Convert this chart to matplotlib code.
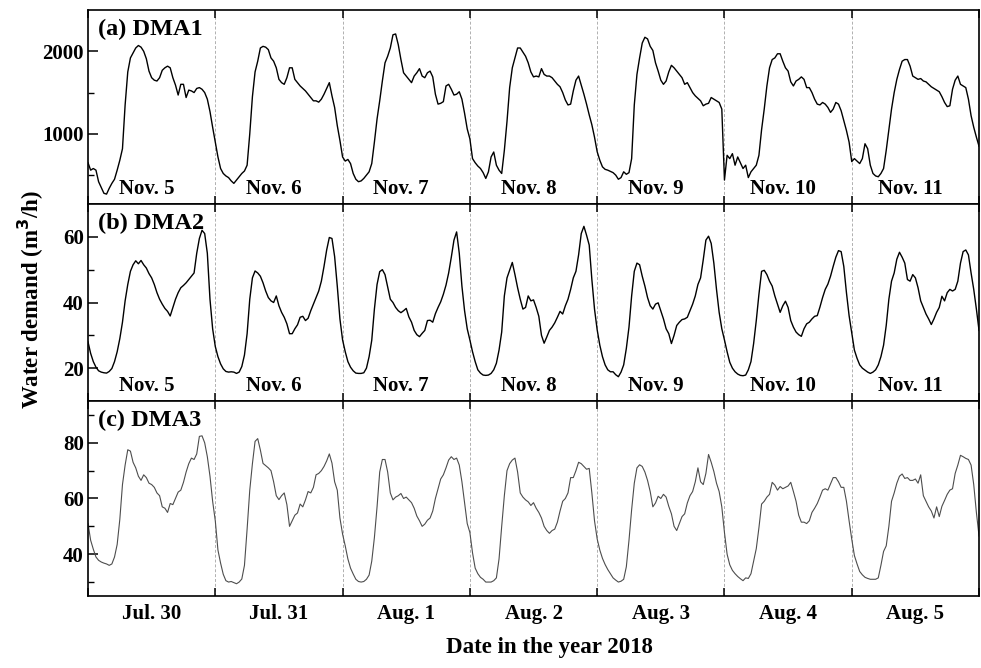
import numpy as np
import matplotlib
matplotlib.use("Agg")
import matplotlib.pyplot as plt
from matplotlib.ticker import FixedLocator, NullFormatter

# half-hourly demand, 48 values per day, plus the final point at the end of day 7
dma1 = [
    650, 560, 580, 560, 420, 350, 280, 270, 340, 400, 450, 560, 680, 820, 1350, 1750,
    1920, 1980, 2040, 2070, 2050, 2000, 1910, 1760, 1680, 1650, 1640, 1680, 1770, 1800, 1820, 1800,
    1680, 1590, 1470, 1600, 1600, 1440, 1530, 1520, 1500, 1550, 1560, 1540, 1500, 1420, 1270, 1080,
    900, 720, 580, 520, 490, 470, 430, 400, 440, 480, 520, 550, 620, 1000, 1450, 1750,
    1880, 2040, 2060, 2050, 2020, 1920, 1880, 1800, 1660, 1620, 1600, 1680, 1800, 1800, 1660, 1620,
    1580, 1550, 1520, 1480, 1440, 1400, 1400, 1384, 1420, 1480, 1550, 1620, 1460, 1320, 1100, 920,
    720, 670, 690, 640, 520, 450, 420, 430, 460, 500, 540, 640, 900, 1180, 1400, 1640,
    1860, 1940, 2040, 2200, 2210, 2080, 1900, 1740, 1700, 1660, 1620, 1700, 1740, 1790, 1700, 1680,
    1740, 1760, 1690, 1480, 1360, 1370, 1390, 1580, 1600, 1540, 1470, 1480, 1510, 1420, 1250, 1060,
    940, 700, 650, 610, 580, 530, 460, 540, 720, 780, 620, 560, 520, 800, 1150, 1560,
    1800, 1920, 2040, 2040, 1990, 1940, 1860, 1750, 1690, 1700, 1690, 1790, 1720, 1700, 1700, 1680,
    1640, 1600, 1570, 1500, 1410, 1350, 1360, 1520, 1650, 1700, 1590, 1480, 1360, 1230, 1110, 960,
    784, 680, 600, 570, 560, 545, 530, 500, 450, 470, 540, 510, 530, 700, 1350, 1720,
    1920, 2100, 2170, 2150, 2060, 2010, 1860, 1760, 1650, 1600, 1640, 1750, 1830, 1800, 1760, 1720,
    1680, 1600, 1620, 1560, 1500, 1460, 1430, 1400, 1340, 1360, 1370, 1440, 1420, 1400, 1380, 1300,
    440, 740, 700, 760, 620, 720, 650, 580, 620, 470, 540, 580, 620, 740, 1050, 1300,
    1580, 1800, 1900, 1920, 1970, 1970, 1880, 1800, 1760, 1630, 1580, 1640, 1660, 1690, 1660, 1560,
    1560, 1500, 1420, 1360, 1350, 1380, 1360, 1320, 1260, 1300, 1380, 1360, 1280, 1160, 1040, 900,
    664, 700, 670, 640, 700, 880, 820, 620, 520, 490, 480, 520, 580, 800, 1050, 1300,
    1500, 1660, 1780, 1880, 1900, 1900, 1820, 1700, 1680, 1660, 1670, 1640, 1630, 1600, 1570, 1550,
    1530, 1510, 1450, 1380, 1330, 1340, 1540, 1650, 1700, 1600, 1580, 1560, 1420, 1220, 1080, 960,
    850,
]

dma2 = [
    28, 24.5, 22, 20.3, 19.2, 18.8, 18.6, 18.5, 19, 19.9, 22, 25, 29, 34, 40.5, 45.5,
    49.5, 51.5, 52.7, 51.8, 52.8, 51.5, 50.5, 48.8, 47.5, 45.5, 43, 41, 39.5, 38.2, 37.3, 35.9,
    38.5, 41, 43, 44.5, 45.2, 46, 47, 48, 49, 55, 59.5, 62, 61, 55, 41, 32,
    26.6, 23.5, 21.3, 19.8, 19, 18.8, 18.9, 18.8, 18.4, 18.8, 20.5, 24, 30.5, 41, 47.5, 49.6,
    49, 48, 46, 43.5, 41.5, 40.5, 40, 42, 39, 37, 35.5, 33.5, 30.5, 30.5, 32, 33.2,
    35.5, 35.8, 34.5, 35.2, 37.5, 39.5, 41.5, 43.5, 46.5, 51, 56, 59.8, 59.5, 54, 45, 35,
    28.6, 25, 22, 20.3, 19.2, 18.5, 18.4, 18.4, 18.6, 20, 23.5, 28.5, 38, 45.5, 49.4, 50,
    48.5, 44.8, 41, 40, 38.5, 37.5, 36.9, 37.5, 38.2, 35.6, 34, 31.5, 30.2, 29.6, 30.6, 31.5,
    34.5, 34.6, 34, 36.6, 38.5, 40.2, 42.5, 45.3, 49, 53.8, 59, 61.5, 55, 45, 37.5, 32,
    28.6, 25, 22, 19.5, 18.5, 17.9, 17.8, 17.9, 18.4, 19.5, 21.5, 25.5, 31, 42, 47.5, 49.8,
    52.2, 48.5, 44.5, 41, 38, 38.5, 42, 40.5, 40.8, 38.5, 35.8, 30, 27.6, 29.5, 31.5, 32.5,
    33.8, 35.5, 37.3, 36.5, 39, 41, 44, 47.5, 49.5, 54.5, 61, 63.2, 60.5, 57.5, 47, 38,
    31.7, 27, 23.5, 21, 19.5, 18.9, 18.9, 18, 17.4, 18.8, 21, 26, 32.5, 42, 49.5, 52,
    51.5, 48, 45, 41.5, 39, 38, 39.5, 39.9, 37.5, 35, 32, 30.5, 27.5, 30, 33, 34,
    34.8, 35, 35.5, 37.5, 39.5, 42, 45.5, 47.5, 53, 59, 60.2, 58, 52, 44, 37, 32,
    28.6, 25, 21.8, 20, 18.9, 18.2, 17.8, 17.7, 17.9, 19.5, 22, 27.5, 34.5, 42.5, 49.5, 49.8,
    48.5, 46.5, 45, 42, 39.5, 37, 39, 40.4, 38.5, 34.5, 32.5, 31, 30.2, 29.7, 32, 33.5,
    34, 35, 35.8, 36, 38.6, 41.5, 44, 45.6, 48, 51, 53.8, 55.8, 55.5, 51, 43, 36,
    30.7, 25.5, 23, 21, 20, 19.4, 18.8, 18.4, 18.8, 19.5, 21, 23.5, 27, 33, 41, 46.5,
    49, 53.2, 55.3, 53.8, 52, 47, 46.5, 48.5, 47.5, 44.5, 40.5, 38.5, 36.5, 35, 33.3, 35,
    37, 38.5, 41.9, 40.5, 43, 44, 43.5, 44, 46.5, 52, 55.5, 56, 54.5, 49, 44, 38,
    31.5,
]

dma3 = [
    51, 45, 41.8, 39, 37.8, 37.2, 36.8, 36.5, 36, 36.5, 39, 43.5, 52.5, 65, 72, 77.5,
    77, 73, 71, 68, 66.5, 68.5, 67.5, 65.5, 65, 64, 62, 61, 57, 56.5, 55, 58.2,
    57.8, 60, 62.3, 63, 65.8, 69.5, 72.5, 74.5, 74, 76, 82.3, 82.5, 80, 75, 68, 59,
    52, 41.5, 36.8, 32.8, 30.5, 30, 30.2, 29.8, 29.4, 30, 31.1, 36, 49, 63, 72.5, 80.5,
    81.5, 77.4, 72.6, 71.8, 71, 70, 66, 61, 59.6, 61, 62, 57.8, 50, 52, 54, 54.8,
    58, 57, 59.5, 62.5, 62, 64, 68.5, 69, 70, 71.5, 73.5, 76, 72.7, 66, 63, 53,
    47.2, 43, 38.3, 35, 32.9, 31, 30.2, 30, 30.2, 31, 32.5, 37.5, 46, 57, 69.5, 74,
    74, 69.5, 62, 59.5, 60.5, 61, 61.8, 60, 60.5, 59.5, 58.5, 56.5, 53.7, 52, 50, 50.8,
    52.2, 53, 55.5, 60, 63.5, 67, 68.5, 71, 73.8, 75, 74, 74.5, 72, 66, 58.5, 51,
    47.8, 40.5, 35, 33, 31.7, 31, 30, 30, 30, 30.5, 31.5, 38.3, 50, 61, 70, 72.5,
    73.8, 74.5, 69.5, 62, 60.5, 59.5, 58.8, 57.5, 58.5, 56.5, 55, 53, 50, 48.5, 47.5, 48.5,
    49, 51.5, 55.5, 59, 60, 62, 67.5, 67.5, 70, 73, 72.5, 71.5, 70.5, 70.8, 62, 52,
    45.5, 41.5, 38.5, 36.3, 34.5, 33, 31.5, 30.7, 30, 30.3, 31, 35.5, 45, 56, 65.5, 71,
    72.1, 71.5, 69.5, 66.5, 62.5, 57, 58.4, 60.8, 60, 61.5, 60.5, 57.2, 54.5, 50, 48.5, 51,
    53.5, 54.5, 58.4, 61, 62.5, 66, 71, 66, 65, 69, 75.8, 73, 69.7, 65.5, 62.5, 57,
    47.8, 40, 36.2, 34.2, 33, 32, 31.2, 30.5, 31.5, 31.3, 33, 37.5, 42, 49.5, 58, 59,
    60.5, 61.5, 65.8, 64.8, 63, 64.3, 63.5, 64, 64.5, 65.8, 62.5, 59, 54, 51.5, 51.5, 51,
    52, 55, 56.5, 58.2, 60.5, 63, 63.5, 63, 65.2, 67.5, 67.5, 66, 64, 64, 59, 52,
    45.4, 39.5, 36.5, 33.8, 32.6, 31.7, 31.3, 31, 31, 31, 31.5, 36, 41, 43, 50, 59,
    62, 65.5, 68, 68.8, 67.2, 67.5, 66.5, 66.5, 67, 65.5, 68.5, 61, 59, 57, 55.5, 53,
    57, 53.5, 57.2, 59.3, 61.5, 63, 63.5, 69, 72, 75.5, 75, 74.4, 74, 72, 65, 55,
    46.5,
]

days_nov = ["Nov. 5", "Nov. 6", "Nov. 7", "Nov. 8", "Nov. 9", "Nov. 10", "Nov. 11"]
days_aug = ["Jul. 30", "Jul. 31", "Aug. 1", "Aug. 2", "Aug. 3", "Aug. 4", "Aug. 5"]
panel_names = ["(a) DMA1", "(b) DMA2", "(c) DMA3"]

plt.rcParams["font.family"] = ["Liberation Serif", "DejaVu Serif"]
plt.rcParams["font.weight"] = "bold"

fig = plt.figure(figsize=(9.81, 6.68), dpi=100)
boxes = [
    [0.0897, 0.6946, 0.9083, 0.2904],
    [0.0897, 0.3997, 0.9083, 0.2949],
    [0.0897, 0.1078, 0.9083, 0.2919],
]
series = [dma1, dma2, dma3]
ylims = [(150, 2500), (10, 70), (25, 95)]
ymajor = [[1000, 2000], [20, 40, 60], [40, 60, 80]]
yminor = [[500, 1500], [30, 50], [30, 50, 70, 90]]
colors = ["black", "black", "#4d4d4d"]
widths = [1.0, 1.0, 0.8]

for k in range(3):
    ax = fig.add_axes(boxes[k])
    y = np.array(series[k], dtype=float)
    x = np.arange(len(y)) / 48.0
    ax.plot(x, y, color=colors[k], lw=widths[k])
    ax.set_xlim(0, 7)
    ax.set_ylim(*ylims[k])
    for d in range(1, 7):
        ax.axvline(d, color="#b0b0b0", lw=0.7, ls=(0, (3, 2)), zorder=0)

    ax.yaxis.set_major_locator(FixedLocator(ymajor[k]))
    ax.yaxis.set_minor_locator(FixedLocator(yminor[k]))
    ax.xaxis.set_major_locator(FixedLocator(range(8)))
    ax.xaxis.set_major_formatter(NullFormatter())
    ax.tick_params(axis="both", which="both", direction="in", top=True)
    ax.tick_params(axis="y", which="major", length=7, width=1.1, labelsize=15, pad=3)
    ax.tick_params(axis="y", which="minor", length=4, width=1.0)
    ax.tick_params(axis="x", which="major", length=6, width=1.1)
    for lab in ax.get_yticklabels():
        lab.set_fontweight("bold")
    for s in ax.spines.values():
        s.set_linewidth(1.2)

    ax.text(0.011, 0.90, panel_names[k], transform=ax.transAxes,
            fontsize=17.5, fontweight="bold", va="center", ha="left")

    if k < 2:
        for d, name in enumerate(days_nov):
            ax.text(d + 0.46, 0.075, name, transform=ax.get_xaxis_transform(),
                    fontsize=15, fontweight="bold", ha="center", va="center")
    else:
        ax.xaxis.set_minor_locator(FixedLocator(np.arange(7) + 0.5))
        ax.set_xticklabels(days_aug, minor=True)
        ax.tick_params(axis="x", which="minor", length=0, labelsize=15, pad=6)
        for lab in ax.get_xticklabels(minor=True):
            lab.set_fontweight("bold")

fig.text(0.56, 0.03, "Date in the year 2018", fontsize=16.5, fontweight="bold",
         ha="center", va="center")
fig.text(0.032, 0.551, "Water demand (m$^{\\mathbf{3}}$/h)", fontsize=16.5,
         fontweight="bold", rotation=90, ha="center", va="center")

fig.savefig("out.png", dpi=100)
